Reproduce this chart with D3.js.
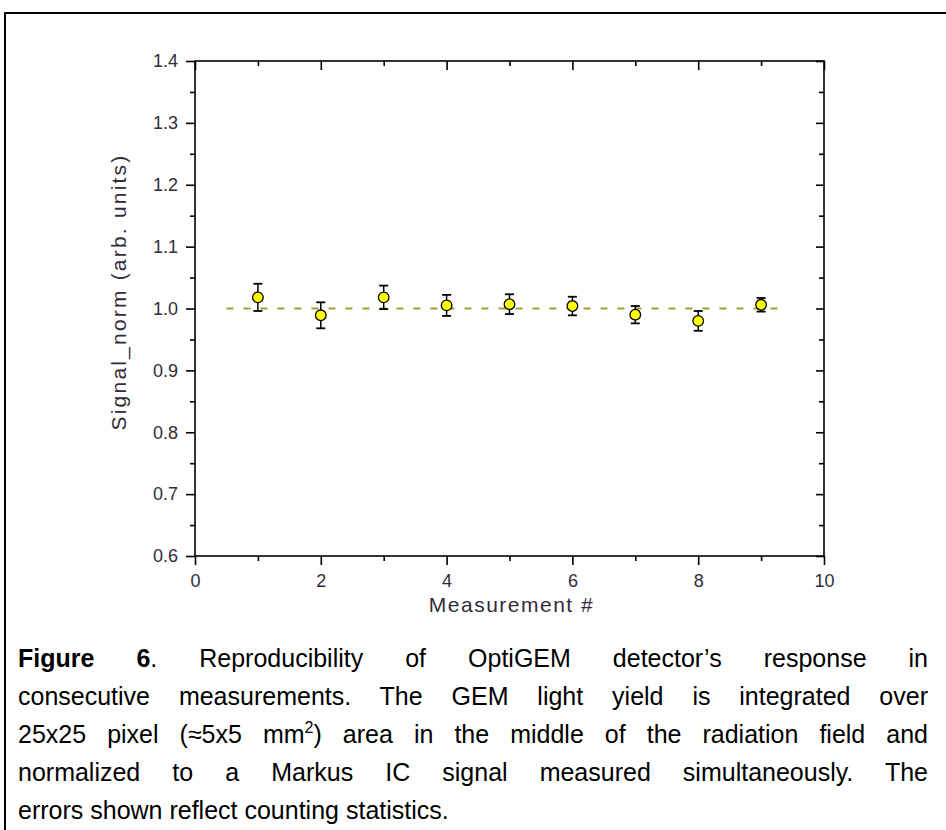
<!DOCTYPE html>
<html>
<head>
<meta charset="utf-8">
<script src="https://cdn.jsdelivr.net/npm/d3@7"></script>
<style>
  html, body { margin: 0; padding: 0; background: #fff; }
  #wrap { position: relative; width: 946px; height: 830px; overflow: hidden; }
  svg { position: absolute; left: 0; top: 0; }
  .cap { position: absolute; left: 18px; width: 910px; font-family: "Liberation Sans", Arial, sans-serif;
         font-size: 25px; line-height: 30px; color: #000; white-space: nowrap; }
  .just { text-align: justify; text-align-last: justify; }
</style>
</head>
<body>
<div id="wrap"></div>
<script>
// ---- data ----
const measurement = [1, 2, 3, 4, 5, 6, 7, 8, 9];
const signalNorm = [1.018, 0.989, 1.018, 1.005, 1.007, 1.004, 0.990, 0.980, 1.006];
const signalErr = [0.022, 0.021, 0.019, 0.017, 0.016, 0.015, 0.014, 0.016, 0.011];
const refLineX = [0.5, 9.4];
const refLineY = 1.0;
const xTicks = [0, 2, 4, 6, 8, 10];
const yTicks = [0.6, 0.7, 0.8, 0.9, 1.0, 1.1, 1.2, 1.3, 1.4];
const xLabel = "Measurement #";
const yLabel = "Signal_norm (arb. units)";
const captionLines = [
  '<b>Figure 6</b>. Reproducibility of OptiGEM detector’s response in',
  'consecutive measurements. The GEM light yield is integrated over',
  '25x25 pixel (≈5x5 mm<sup style="font-size:16px;line-height:0;vertical-align:10px">2</sup>) area in the middle of the radiation field and',
  'normalized to a Markus IC signal measured simultaneously. The',
  'errors shown reflect counting statistics.'
];

const W = 946, H = 830;
const wrap = d3.select("#wrap");
const svg = wrap.append("svg").attr("width", W).attr("height", H);

// outer frame (right/bottom beyond the picture)
svg.append("rect").attr("x", 5).attr("y", 13).attr("width", 960).attr("height", 840)
  .attr("fill", "none").attr("stroke", "#000").attr("stroke-width", 2);

const L = 195, R = 824, T = 61, B = 556;
const x = d3.scaleLinear().domain([0, 10]).range([L, R]);
const y = d3.scaleLinear().domain([0.6, 1.4]).range([B, T]);

const fontFam = '"Liberation Sans", Arial, sans-serif';
const txtCol = "#332c3a";

function styleAxis(g) {
  g.select(".domain").remove();
  g.selectAll("line").attr("stroke", "#000").attr("stroke-width", 1.6);
  g.selectAll("text").attr("font-family", fontFam).attr("font-size", 18).attr("fill", txtCol);
}

const xMinor = d3.range(1, 10, 2);
const yMinor = d3.range(0, 8).map(i => 0.65 + i * 0.1);

// bottom
svg.append("g").attr("transform", `translate(0,${B})`)
  .call(d3.axisBottom(x).tickValues(xTicks).tickSize(9).tickPadding(9).tickFormat(d3.format("d")))
  .call(styleAxis);
svg.append("g").attr("transform", `translate(0,${B})`)
  .call(d3.axisBottom(x).tickValues(xMinor).tickSize(5).tickFormat(""))
  .call(styleAxis);
// top (inward)
svg.append("g").attr("transform", `translate(0,${T})`)
  .call(d3.axisBottom(x).tickValues(xTicks).tickSize(9).tickFormat(""))
  .call(styleAxis);
svg.append("g").attr("transform", `translate(0,${T})`)
  .call(d3.axisBottom(x).tickValues(xMinor).tickSize(5).tickFormat(""))
  .call(styleAxis);
// left
svg.append("g").attr("transform", `translate(${L},0)`)
  .call(d3.axisLeft(y).tickValues(yTicks).tickSize(9).tickPadding(8).tickFormat(d3.format(".1f")))
  .call(styleAxis);
svg.append("g").attr("transform", `translate(${L},0)`)
  .call(d3.axisLeft(y).tickValues(yMinor).tickSize(5).tickFormat(""))
  .call(styleAxis);
// right (inward)
svg.append("g").attr("transform", `translate(${R},0)`)
  .call(d3.axisLeft(y).tickValues(yTicks).tickSize(8).tickFormat(""))
  .call(styleAxis);
svg.append("g").attr("transform", `translate(${R},0)`)
  .call(d3.axisLeft(y).tickValues(yMinor).tickSize(5).tickFormat(""))
  .call(styleAxis);

// frame
svg.append("rect").attr("x", L).attr("y", T).attr("width", R - L).attr("height", B - T)
  .attr("fill", "none").attr("stroke", "#000").attr("stroke-width", 1.6);

// reference line
svg.append("line")
  .attr("x1", x(refLineX[0])).attr("x2", x(refLineX[1]))
  .attr("y1", y(refLineY)).attr("y2", y(refLineY))
  .attr("stroke", "#a0a02c").attr("stroke-width", 2).attr("stroke-dasharray", "7,10");

const pts = measurement.map((m, i) => ({ m, v: signalNorm[i], e: signalErr[i] }));
const eg = svg.append("g");
pts.forEach(p => {
  const cx = x(p.m), y0 = y(p.v - p.e), y1 = y(p.v + p.e);
  eg.append("line").attr("x1", cx).attr("x2", cx).attr("y1", y0).attr("y2", y1)
    .attr("stroke", "#000").attr("stroke-width", 1.5);
  [y0, y1].forEach(yy => eg.append("line").attr("x1", cx - 4.5).attr("x2", cx + 4.5)
    .attr("y1", yy).attr("y2", yy).attr("stroke", "#000").attr("stroke-width", 1.8));
});
svg.append("g").selectAll("circle").data(pts).join("circle")
  .attr("cx", d => x(d.m)).attr("cy", d => y(d.v)).attr("r", 5.3)
  .attr("fill", "#ffff00").attr("stroke", "#000").attr("stroke-width", 1.3);

// axis titles
svg.append("text").attr("x", (L + R) / 2 + 2).attr("y", 612).attr("text-anchor", "middle")
  .attr("font-family", fontFam).attr("font-size", 21).attr("letter-spacing", 1.5)
  .attr("fill", txtCol).text(xLabel);
svg.append("text").attr("transform", `translate(126,292) rotate(-90)`)
  .attr("text-anchor", "middle")
  .attr("font-family", fontFam).attr("font-size", 21).attr("letter-spacing", 2.2)
  .attr("fill", txtCol).text(yLabel);

// caption
const capTop = 643, lh = 38;
captionLines.forEach((t, i) => {
  wrap.append("div").attr("class", "cap" + (i < captionLines.length - 1 ? " just" : ""))
    .style("top", (capTop + i * lh) + "px").html(t);
});
</script>
</body>
</html>
